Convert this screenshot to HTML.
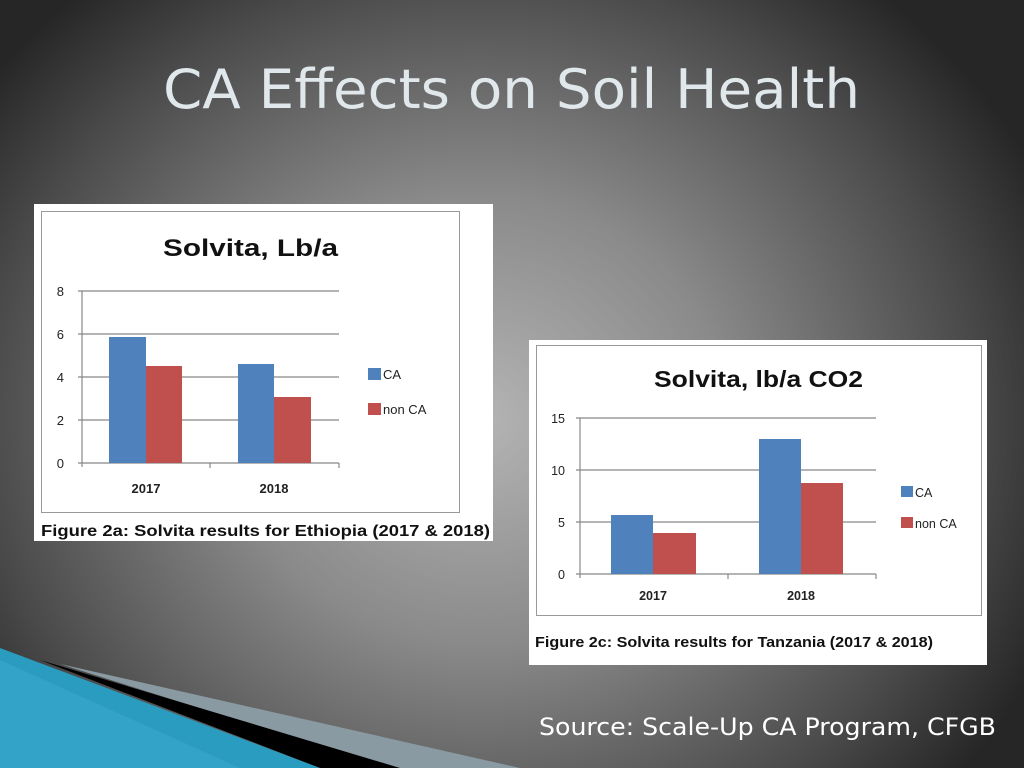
<!DOCTYPE html>
<html><head><meta charset="utf-8"><style>
html,body{margin:0;padding:0;width:1024px;height:768px;overflow:hidden}
body{background:radial-gradient(ellipse 620px 560px at 480px 420px,#b4b4b4 0%,#8a8a8a 40%,#4a4a4a 80%,#262626 100%)}
svg{position:absolute;left:0;top:0}
text{font-family:"Liberation Sans",sans-serif}
</style></head><body>
<svg width="1024" height="768" viewBox="0 0 1024 768">
<text x="163" y="108" font-size="54" fill="#e0e8ec" textLength="697" lengthAdjust="spacingAndGlyphs" style="font-family:'DejaVu Sans',sans-serif">CA Effects on Soil Health</text>
<!-- bottom decoration -->
<polygon points="60,664 520,768 390,768" fill="#8a9aa2"/>
<polygon points="40,660 400,768 320,768" fill="#000"/>
<polygon points="0,648 0,768 320,768" fill="#2a9cc0"/>
<polygon points="0,660 0,768 240,768" fill="#3aa8cc" opacity="0.6"/>

<!-- chart 1 -->
<rect x="34" y="204" width="459" height="337" fill="#fff"/>
<rect x="41.5" y="211.5" width="418" height="301" fill="none" stroke="#999" stroke-width="1"/>
<text x="163" y="256" font-size="24" font-weight="bold" fill="#111" textLength="175" lengthAdjust="spacingAndGlyphs">Solvita, Lb/a</text>
<g stroke="#888" stroke-width="1.2">
<line x1="78" y1="291" x2="339" y2="291"/><line x1="78" y1="334" x2="339" y2="334"/>
<line x1="78" y1="377" x2="339" y2="377"/><line x1="78" y1="420" x2="339" y2="420"/>
<line x1="78" y1="463" x2="339" y2="463"/><line x1="82" y1="291" x2="82" y2="467"/>
<line x1="210" y1="463" x2="210" y2="468"/><line x1="339" y1="463" x2="339" y2="468"/>
</g>
<rect x="109" y="337" width="37" height="126" fill="#4f81bd"/>
<rect x="146" y="366" width="36" height="97" fill="#c0504d"/>
<rect x="238" y="364" width="36" height="99" fill="#4f81bd"/>
<rect x="274" y="397" width="37" height="66" fill="#c0504d"/>
<g font-size="13" fill="#222" text-anchor="end">
<text x="64" y="296">8</text><text x="64" y="339">6</text><text x="64" y="382">4</text><text x="64" y="425">2</text><text x="64" y="468">0</text></g>
<g font-size="13" fill="#222" text-anchor="middle" font-weight="bold"><text x="146" y="493">2017</text><text x="274" y="493">2018</text></g>
<rect x="368" y="368" width="13" height="12" fill="#4f81bd"/><rect x="368" y="403" width="13" height="12" fill="#c0504d"/>
<text x="383" y="379" font-size="13" fill="#222">CA</text><text x="383" y="414" font-size="13" fill="#222">non CA</text>
<text x="41" y="536" font-size="16" font-weight="bold" fill="#111" textLength="449" lengthAdjust="spacingAndGlyphs">Figure 2a: Solvita results for Ethiopia (2017 &amp; 2018)</text>

<!-- chart 2 -->
<rect x="529" y="340" width="458" height="325" fill="#fff"/>
<rect x="536.5" y="345.5" width="445" height="270" fill="none" stroke="#999" stroke-width="1"/>
<text x="654" y="387" font-size="23" font-weight="bold" fill="#111" textLength="209" lengthAdjust="spacingAndGlyphs">Solvita, lb/a CO2</text>
<g stroke="#888" stroke-width="1.2">
<line x1="576" y1="418" x2="876" y2="418"/><line x1="576" y1="470" x2="876" y2="470"/>
<line x1="576" y1="522" x2="876" y2="522"/><line x1="576" y1="574" x2="876" y2="574"/>
<line x1="580" y1="418" x2="580" y2="578"/><line x1="728" y1="574" x2="728" y2="579"/><line x1="876" y1="574" x2="876" y2="579"/>
</g>
<rect x="611" y="515" width="42" height="59" fill="#4f81bd"/>
<rect x="653" y="533" width="43" height="41" fill="#c0504d"/>
<rect x="759" y="439" width="42" height="135" fill="#4f81bd"/>
<rect x="801" y="483" width="42" height="91" fill="#c0504d"/>
<g font-size="12.5" fill="#222" text-anchor="end">
<text x="565" y="423">15</text><text x="565" y="475">10</text><text x="565" y="527">5</text><text x="565" y="579">0</text></g>
<g font-size="12.5" fill="#222" text-anchor="middle" font-weight="bold"><text x="653" y="600">2017</text><text x="801" y="600">2018</text></g>
<rect x="901" y="486" width="12" height="11" fill="#4f81bd"/><rect x="901" y="517" width="12" height="11" fill="#c0504d"/>
<text x="915" y="497" font-size="12.5" fill="#222">CA</text><text x="915" y="528" font-size="12.5" fill="#222">non CA</text>
<text x="535" y="647" font-size="15" font-weight="bold" fill="#111" textLength="398" lengthAdjust="spacingAndGlyphs">Figure 2c: Solvita results for Tanzania (2017 &amp; 2018)</text>

<text x="539" y="735" font-size="24" fill="#fff" textLength="457" lengthAdjust="spacingAndGlyphs" style="font-family:'DejaVu Sans',sans-serif">Source:  Scale-Up CA Program, CFGB</text>
</svg>
</body></html>
